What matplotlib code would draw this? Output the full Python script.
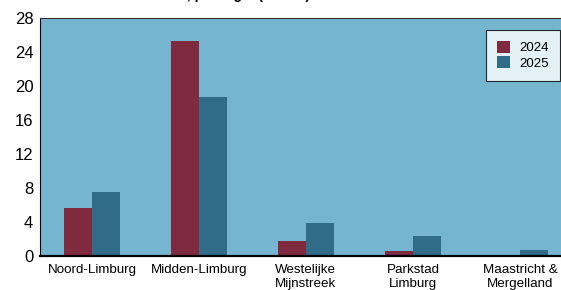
import matplotlib
matplotlib.use("Agg")
import matplotlib.pyplot as plt
import numpy as np

plt.rcParams['font.family'] = ['Liberation Sans', 'DejaVu Sans']

categories = ["Noord-Limburg", "Midden-Limburg", "Westelijke\nMijnstreek",
              "Parkstad\nLimburg", "Maastricht &\nMergelland"]
series_2024 = [5.6, 25.3, 1.7, 0.5, 0.1]
series_2025 = [7.5, 18.7, 3.8, 2.3, 0.65]
yticks = [0, 4, 8, 12, 16, 20, 24, 28]
title = "Aantal vacatures, per regio (x 1000)"

W, H = 561, 290
fig = plt.figure(figsize=(W/100, H/100), dpi=100)
fig.patch.set_facecolor('white')

# axes in pixel geometry: left 40, top 18, bottom 255.5, 107 px per category
left, top, bottom = 39.5, 18, 255.5
span = 107 * 5
ax = fig.add_axes([left/W, 1 - bottom/H, span/W, (bottom - top)/H])
ax.set_facecolor('#75B5D0')

x = np.arange(len(categories))
w = 0.258
ax.bar(x - w/2, series_2024, width=w, color='#802A40', label='2024', zorder=2)
ax.bar(x + w/2, series_2025, width=w, color='#306B88', label='2025', zorder=2)

ax.set_xlim(-0.49, 4.51)
ax.set_ylim(0, 28)
ax.set_yticks(yticks)
ax.set_yticklabels([str(v) for v in yticks], fontsize=12)
ax.set_xticks(x)
ax.set_xticklabels(categories, fontsize=9.6, linespacing=1.2)
ax.tick_params(axis='x', length=0, pad=6)
ax.tick_params(axis='y', length=0, pad=4.5)
for s in ax.spines.values():
    s.set_color('#333333')
    s.set_linewidth(0.8)
ax.spines['left'].set_color('black')
ax.spines['bottom'].set_color('black')
ax.spines['bottom'].set_linewidth(1.6)

leg = ax.legend(loc='upper left', bbox_to_anchor=((486 - left)/span, 1 - (30 - top)/(bottom - top)),
                fontsize=9.5, frameon=True, fancybox=False, edgecolor='black',
                handlelength=0.95, handleheight=0.95, handletextpad=0.7,
                borderpad=0.85, labelspacing=0.15, borderaxespad=0)
leg.get_frame().set_linewidth(0.8)
leg.get_frame().set_facecolor('white')

fig.text(310/W, 1.0 + 0.5/H, title, ha='right', va='baseline', fontsize=10,
         fontweight='bold')

fig.savefig('out.png', dpi=100)
